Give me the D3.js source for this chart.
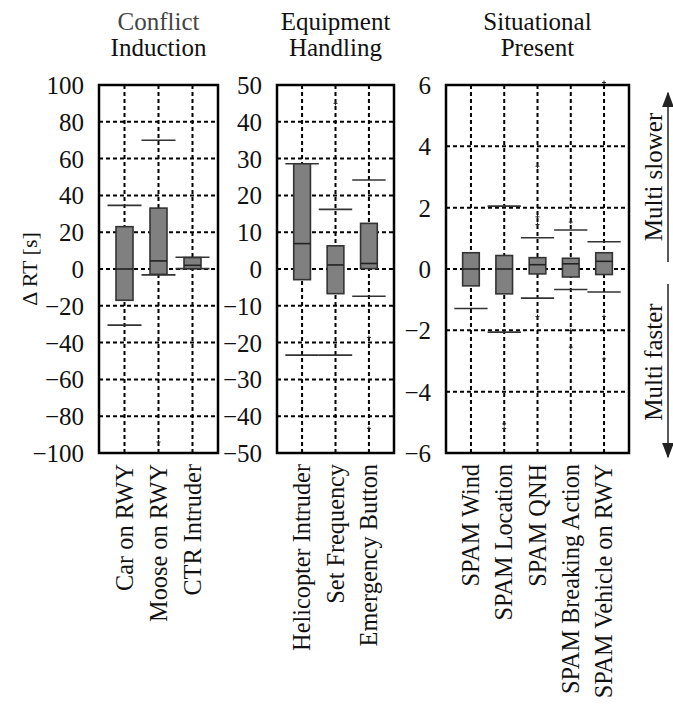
<!DOCTYPE html>
<html><head><meta charset="utf-8">
<script src="https://cdn.jsdelivr.net/npm/d3@7"></script>
<style>body{margin:0;background:#fff}svg{display:block}text{font-family:"Liberation Serif","DejaVu Serif",serif}</style>
</head><body>
<svg id="chart" width="673" height="707"></svg>
<script>
// ---- data ----
const panelTitles = [["Conflict","Induction"],["Equipment","Handling"],["Situational","Present"]];
const categories1 = ["Car on RWY","Moose on RWY","CTR Intruder"];
const categories2 = ["Helicopter Intruder","Set Frequency","Emergency Button"];
const categories3 = ["SPAM Wind","SPAM Location","SPAM QNH","SPAM Breaking Action","SPAM Vehicle on RWY"];
const yTicks1 = [-100,-80,-60,-40,-20,0,20,40,60,80,100];
const yTicks2 = [-50,-40,-30,-20,-10,0,10,20,30,40,50];
const yTicks3 = [-6,-4,-2,0,2,4,6];
// whisker low, Q1, median, Q3, whisker high
const lo1 = [-30.5, -3.2, 0.2];   const q1_1 = [-17, -2.9, 0.2]; const med1 = [0, 4.4, 2.0]; const q3_1 = [23, 33.1, 6.2]; const hi1 = [34.6, 70, 6.4];
const out1 = [[], [-94], []];
const lo2 = [-23.4, -23.4, -7.4]; const q1_2 = [-2.9, -6.7, 0.1]; const med2 = [6.9, 1.1, 1.5]; const q3_2 = [28.6, 6.3, 12.4]; const hi2 = [28.6, 16.2, 24.2];
const out2 = [[], [45], [-18.6, -43.3]];
const lo3 = [-1.29, -2.06, -0.95, -0.67, -0.75]; const q1_3 = [-0.55, -0.81, -0.16, -0.26, -0.18]; const med3 = [0, 0, 0.14, 0.17, 0.25];
const q3_3 = [0.53, 0.44, 0.37, 0.35, 0.53]; const hi3 = [null, 2.05, 1.02, 1.27, 0.89];
const out3 = [[], [-5.05, -5.2], [1.45, 1.7, 3.35, -1.55], [1.53, -2.0, -2.55], [6.08, -1.55, -2.93]];
const yLabel = "Δ RT [s]";
const sideLabels = ["Multi slower", "Multi faster"];

// ---- layout ----
const svg = d3.select("#chart");
const yTop = 85, yBot = 453;
const panels = [
  {x0: 99, x1: 218, cats: categories1, ticks: yTicks1, lo: lo1, q1: q1_1, med: med1, q3: q3_1, hi: hi1, out: out1, title: panelTitles[0]},
  {x0: 277, x1: 394, cats: categories2, ticks: yTicks2, lo: lo2, q1: q1_2, med: med2, q3: q3_2, hi: hi2, out: out2, title: panelTitles[1]},
  {x0: 446, x1: 629, cats: categories3, ticks: yTicks3, lo: lo3, q1: q1_3, med: med3, q3: q3_3, hi: hi3, out: out3, title: panelTitles[2]}
];
const fmt = v => (v < 0 ? "\u2212" + Math.abs(v) : String(v));

panels.forEach(p => {
  const n = p.cats.length;
  const x = d3.scaleLinear().domain([0.25, n + 0.75]).range([p.x0, p.x1]);
  const y = d3.scaleLinear().domain([p.ticks[0], p.ticks[p.ticks.length - 1]]).range([yBot, yTop]);
  const unit = x(2) - x(1);
  const g = svg.append("g");

  // grid
  g.selectAll(".hg").data(p.ticks.slice(1, -1)).join("line")
    .attr("x1", p.x0).attr("x2", p.x1).attr("y1", d => y(d)).attr("y2", d => y(d))
    .attr("stroke", "#000").attr("stroke-width", 2).attr("stroke-dasharray", "4,3");
  g.selectAll(".vg").data(d3.range(1, n + 1)).join("line")
    .attr("x1", d => x(d)).attr("x2", d => x(d)).attr("y1", yTop).attr("y2", yBot)
    .attr("stroke", "#000").attr("stroke-width", 2).attr("stroke-dasharray", "4,3");

  // y axis labels (no tick marks)
  const ax = d3.axisLeft(y).tickValues(p.ticks).tickFormat(fmt).tickSize(0).tickPadding(15);
  const ag = g.append("g").attr("transform", `translate(${p.x0},0)`).call(ax);
  ag.select(".domain").remove();
  ag.selectAll("text").attr("font-size", 25).attr("fill", "#111").attr("dy", "0.34em")
    .style("font-family", '"Liberation Serif", serif');

  // boxes
  d3.range(n).forEach(i => {
    const cx = x(i + 1);
    const cw = unit, bw = unit * 0.5;
    const capColor = "#333";
    if (p.hi[i] !== null) g.append("line").attr("x1", cx - cw / 2).attr("x2", cx + cw / 2)
      .attr("y1", y(p.hi[i])).attr("y2", y(p.hi[i])).attr("stroke", capColor).attr("stroke-width", 1.6);
    if (p.lo[i] !== null) g.append("line").attr("x1", cx - cw / 2).attr("x2", cx + cw / 2)
      .attr("y1", y(p.lo[i])).attr("y2", y(p.lo[i])).attr("stroke", capColor).attr("stroke-width", 1.6);
    g.append("rect").attr("x", cx - bw / 2).attr("width", bw)
      .attr("y", y(p.q3[i])).attr("height", Math.max(1, y(p.q1[i]) - y(p.q3[i])))
      .attr("fill", "#808080").attr("stroke", "#333").attr("stroke-width", 1.6);
    g.append("line").attr("x1", cx - bw / 2).attr("x2", cx + bw / 2)
      .attr("y1", y(p.med[i])).attr("y2", y(p.med[i])).attr("stroke", "#222").attr("stroke-width", 1.6);
    p.out[i].forEach(v => {
      const py = y(v);
      g.append("path").attr("d", `M${cx - 2},${py}H${cx + 2}M${cx},${py - 2}V${py + 2}`)
        .attr("stroke", "#222").attr("stroke-width", 1);
    });
  });

  // frame
  g.append("rect").attr("x", p.x0).attr("y", yTop).attr("width", p.x1 - p.x0).attr("height", yBot - yTop)
    .attr("fill", "none").attr("stroke", "#000").attr("stroke-width", 2.5);

  // x labels
  p.cats.forEach((c, i) => {
    g.append("text").attr("transform", `translate(${x(i + 1) + 8},${yBot + 11}) rotate(-90)`)
      .attr("text-anchor", "end").attr("font-size", 24.3).attr("fill", "#111").text(c);
  });

  // title
  const cxT = (p.x0 + p.x1) / 2;
  p.title.forEach((t, k) => {
    g.append("text").attr("x", cxT).attr("y", 30 + k * 26).attr("text-anchor", "middle")
      .attr("font-size", 25).attr("fill", k === 0 && p === panels[0] ? "#444" : "#111").text(t);
  });
});

// y label
svg.append("text").attr("transform", "translate(37,269) rotate(-90)").attr("text-anchor", "middle")
  .attr("font-size", 22).attr("fill", "#111").text(yLabel);

// side arrows and labels
const defs = svg.append("defs");
defs.append("marker").attr("id", "ah").attr("viewBox", "0 0 10 10").attr("refX", 9).attr("refY", 5)
  .attr("markerUnits", "userSpaceOnUse").attr("markerWidth", 16).attr("markerHeight", 12).attr("orient", "auto")
  .attr("preserveAspectRatio", "none")
  .append("path").attr("d", "M0,0L10,5L0,10Z").attr("fill", "#222");
svg.append("line").attr("x1", 668).attr("x2", 668).attr("y1", 262).attr("y2", 93)
  .attr("stroke", "#222").attr("stroke-width", 1.5).attr("marker-end", "url(#ah)");
svg.append("line").attr("x1", 668).attr("x2", 668).attr("y1", 284).attr("y2", 457)
  .attr("stroke", "#222").attr("stroke-width", 1.5).attr("marker-end", "url(#ah)");
svg.append("text").attr("transform", "translate(662,177) rotate(-90)").attr("text-anchor", "middle")
  .attr("font-size", 25).attr("fill", "#111").text(sideLabels[0]);
svg.append("text").attr("transform", "translate(662,362) rotate(-90)").attr("text-anchor", "middle")
  .attr("font-size", 25).attr("fill", "#111").text(sideLabels[1]);
</script>
</body></html>
